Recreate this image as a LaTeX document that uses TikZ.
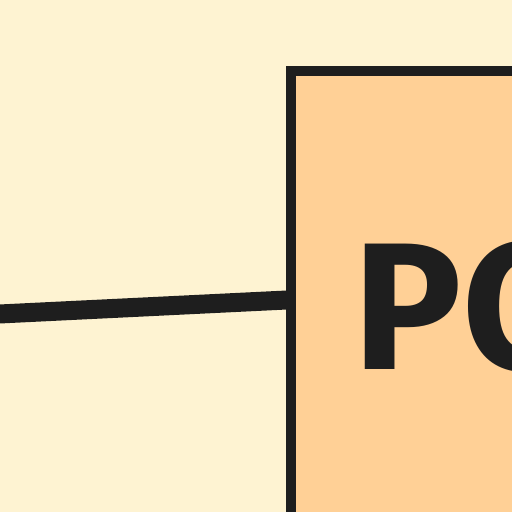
\documentclass[tikz,border=0pt]{standalone}
\usepackage{fontspec}
\setsansfont{Fira Sans}
\usetikzlibrary{positioning}
\definecolor{paper}{HTML}{FEF3D2}
\definecolor{boxfill}{HTML}{FFD096}
\definecolor{ink}{HTML}{1E1E1E}

\begin{document}
\begin{tikzpicture}[
    x=1pt, y=1pt,
    unit/.style={rectangle, draw=ink, line width=10.7pt, fill=boxfill, outer sep=0pt,
                 minimum width=338pt, minimum height=472pt, anchor=north west,
                 text=ink, font=\sffamily\bfseries\fontsize{181}{181}\selectfont},
    wire/.style={draw=ink, line width=19pt}
]
    % frame of the view
    \useasboundingbox (0,0) rectangle (512,512);
    \clip (0,0) rectangle (512,512);
    \fill[paper] (0,0) rectangle (512,512);

    % the unit and its incoming wire
    \node[unit] (pc) at (291,441) {PC};
    \coordinate (feed) at (-60,195.1);
    \draw[wire] (feed) -- ([yshift=7.2pt]pc.west);

\end{tikzpicture}
\end{document}
